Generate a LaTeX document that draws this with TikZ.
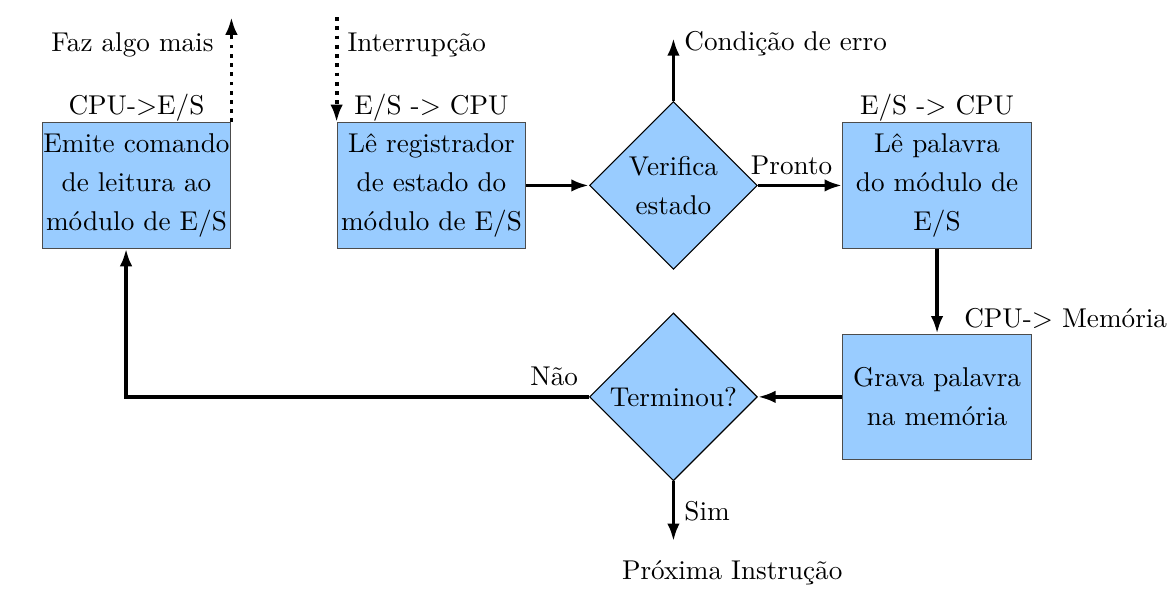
\documentclass[tikz,border=0pt]{standalone}
\usepackage{tikz}
\usetikzlibrary{shapes.geometric}
\usetikzlibrary{positioning}
\usetikzlibrary{arrows.meta}
\definecolor{azulclaro}{RGB}{153,204,255}

\begin{document}
\begin{tikzpicture}[
      caixa/.style={shape=rectangle, draw=black!70, fill=azulclaro, align=center,
        minimum width=24.4mm, minimum height=16.2mm, inner sep=0.5pt,
        font=\fontsize{10}{14.3}\selectfont},
      losango/.style={shape=diamond, draw, fill=azulclaro, align=center, aspect=1,
        minimum width=21.7mm, minimum height=21.7mm, inner sep=0pt,
        font=\fontsize{10}{14.3}\selectfont},
      rotulo/.style={inner sep=0pt},
      seta/.style={line width=1.4pt, -{Latex[length=6.5pt,width=4.6pt]}},
      pontilhada/.style={seta, dotted}]
  \useasboundingbox (-17.65mm,-55.15mm) rectangle (134.3mm,23.98mm);
  % linha de cima
  \node[caixa, label={[rotulo]above:CPU->E/S}] (emite) at (0,0) {Emite comando\\de leitura ao\\módulo de E/S};
  \node[caixa, label={[rotulo]above:E/S -> CPU}] (le) [right=13.6mm of emite] {Lê registrador\\de estado do\\módulo de E/S};
  \node[losango] (verifica) [right=8.1mm of le] {Verifica\\estado};
  \node[caixa, label={[rotulo]above:E/S -> CPU}] (lepalavra) [right=10.9mm of verifica] {Lê palavra\\do módulo de\\E/S};
  % linha de baixo
  \node[caixa] (grava) [below=11mm of lepalavra] {Grava palavra\\na memória};
  \node[losango] (terminou) [left=10.9mm of grava] {Terminou?};
  \coordinate[above=8.15mm of verifica] (erro);
  \coordinate (faz) at ([yshift=13.6mm]emite.north east);
  \coordinate (interr) at ([yshift=13.6mm]le.north west);
  \coordinate[below=7.75mm of terminou] (fim);
  \node (proxima) [below=1.2mm of fim, xshift=7.6mm] {Próxima Instrução};
  % setas
  \draw[seta] (le) -- (verifica);
  \draw[seta] (verifica) -- (lepalavra) node[pos=0.4, above] {Pronto};
  \draw[seta] (verifica) -- (erro) node[right, yshift=-2pt] {Condição de erro};
  \draw[seta] (lepalavra) -- (grava) node[pos=0.82, right=2.1mm] {CPU-> Memória};
  \draw[seta] (grava) -- (terminou);
  \draw[seta] (terminou.west) node[above left] {Não} -| ([xshift=-1.35mm]emite.south);
  \draw[seta] (terminou) -- (fim) node[midway, right] {Sim};
  \draw[pontilhada] (emite.north east) -- (faz) node[pos=0.74, left=0.9mm] {Faz algo mais};
  \draw[pontilhada] (interr) -- (le.north west) node[pos=0.26, right] {Interrupção};
\end{tikzpicture}
\end{document}
